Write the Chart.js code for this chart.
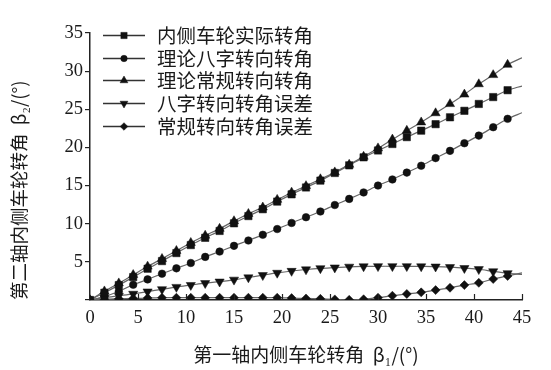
<!DOCTYPE html>
<html>
<head>
<meta charset="utf-8">
<script src="https://cdn.jsdelivr.net/npm/chart.js@4/dist/chart.umd.min.js"></script>
<style>
  html,body{margin:0;padding:0;background:#fff;}
  #wrap{width:551px;height:370px;position:relative;}
</style>
</head>
<body>
<div id="wrap"><canvas id="c"></canvas></div>
<script>
// ---- data ----
const xValues = [0,1.5,3,4.5,6,7.5,9,10.5,12,13.5,15,16.5,18,19.5,21,22.5,24,25.5,27,28.5,30,31.5,33,34.5,36,37.5,39,40.5,42,43.5,45];
const actualAngle = [0,0.95,1.95,3.0,4.1,5.1,6.15,7.2,8.15,9.05,10.05,11.0,11.9,12.9,13.85,14.75,15.65,16.65,17.65,18.7,19.6,20.45,21.35,22.2,23.05,23.95,24.8,25.7,26.6,27.5,28.05];
const eightAngle = [0,0.45,1.15,2.0,2.7,3.45,4.15,4.85,5.65,6.35,7.1,7.8,8.55,9.3,10.1,10.85,11.6,12.45,13.25,14.1,15.0,15.8,16.7,17.6,18.6,19.55,20.55,21.55,22.65,23.75,24.55];
const conventionalAngle = [0,1.15,2.2,3.3,4.4,5.4,6.45,7.5,8.45,9.35,10.35,11.3,12.15,13.15,14.1,14.95,15.85,16.75,17.75,18.8,19.9,21.05,22.2,23.3,24.5,25.7,26.95,28.3,29.5,30.85,31.75];
const eightError = [0,0.3,0.55,0.8,1.1,1.4,1.7,1.95,2.2,2.4,2.65,2.95,3.25,3.55,3.8,4.0,4.15,4.25,4.35,4.4,4.42,4.42,4.42,4.4,4.37,4.3,4.17,4.03,3.75,3.5,3.35];
const conventionalError = [0,0.1,0.15,0.2,0.25,0.3,0.3,0.3,0.3,0.3,0.3,0.3,0.3,0.3,0.25,0.2,0.15,0.08,0.02,0.1,0.3,0.56,0.79,1.0,1.3,1.6,1.95,2.25,2.75,3.15,3.55];
const seriesNames = ['内侧车轮实际转角','理论八字转向转角','理论常规转向转角','八字转向转角误差','常规转向转角误差'];
const xTicks = [0,5,10,15,20,25,30,35,40,45];
const yTicks = [5,10,15,20,25,30,35];
const xTitle = '第一轴内侧车轮转角  β₁/(°)';
const yTitle = '第二轴内侧车轮转角  β₂/(°)';

const toPts = ys => xValues.map((x,i)=>({x:x,y:ys[i]}));
const lastIdx = xValues.length - 1;
const markerStyles = [
  {pointStyle:'rect', radius:5.2, rotation:0},
  {pointStyle:'circle', radius:3.8, rotation:0},
  {pointStyle:'triangle', radius:5.3, rotation:0},
  {pointStyle:'triangle', radius:5.3, rotation:180},
  {pointStyle:'rectRot', radius:4.5, rotation:0}
];
const seriesData = [actualAngle, eightAngle, conventionalAngle, eightError, conventionalError];

const datasets = seriesData.map((d,k)=>({
  label: seriesNames[k],
  data: toPts(d),
  borderColor: '#666',
  borderWidth: 1.2,
  backgroundColor: '#111',
  pointBackgroundColor: '#111',
  pointBorderColor: '#111',
  pointBorderWidth: 0.5,
  pointStyle: markerStyles[k].pointStyle,
  pointRotation: markerStyles[k].rotation,
  pointRadius: ctx => ctx.dataIndex === lastIdx ? 0 : markerStyles[k].radius,
  tension: 0.3,
  fill: false
}));

const serif = '"Liberation Serif","Times New Roman",serif';
const cjk = '"Noto Sans CJK SC","Liberation Serif",serif';

const extras = {
  id: 'extras',
  afterDatasetsDraw(chart){
    const ctx = chart.ctx;
    const xs = chart.scales.x, ys = chart.scales.y;
    ctx.save();
    // inward x ticks
    ctx.strokeStyle = '#222';
    ctx.lineWidth = 1.2;
    const yb = ys.getPixelForValue(0);
    xTicks.forEach(v=>{
      if(v===0) return;
      const px = Math.round(xs.getPixelForValue(v))+0.5;
      ctx.beginPath(); ctx.moveTo(px, yb); ctx.lineTo(px, yb-6); ctx.stroke();
    });
    // legend
    const rowY = [35,58,80,103,126];
    chart.data.datasets.forEach((ds,k)=>{
      const y = rowY[k];
      ctx.strokeStyle = '#333';
      ctx.lineWidth = 1.4;
      ctx.beginPath(); ctx.moveTo(103,y+0.5); ctx.lineTo(145,y+0.5); ctx.stroke();
      ctx.fillStyle = '#111';
      ctx.strokeStyle = '#111';
      ctx.lineWidth = 0.5;
      Chart.helpers.drawPoint(ctx, {pointStyle: markerStyles[k].pointStyle, radius: markerStyles[k].radius*0.85, rotation: markerStyles[k].rotation, borderWidth:0.5}, 124, y+0.5);
      ctx.fillStyle = '#1a1a1a';
      ctx.font = '19.5px ' + cjk;
      ctx.textBaseline = 'middle';
      ctx.textAlign = 'left';
      ctx.fillText(ds.label, 157, y+1);
    });
    ctx.restore();
  }
};

new Chart(document.getElementById('c'), {
  type: 'line',
  data: { datasets: datasets },
  plugins: [extras],
  options: {
    responsive: true,
    maintainAspectRatio: false,
    animation: false,
    layout: { padding: { left: 6, right: 29, top: 33, bottom: 4 } },
    plugins: { legend: { display: false }, tooltip: { enabled: false } },
    scales: {
      x: {
        type: 'linear', min: 0, max: 45,
        afterBuildTicks: s => { s.ticks = xTicks.map(v=>({value:v})); },
        afterFit: s => { s.height = 66; },
        grid: { display: true, drawOnChartArea: false, drawTicks: false },
        border: { display: true, color: '#222', width: 1.5 },
        ticks: { color: '#1a1a1a', font: { family: serif, size: 18.5 }, padding: 7, maxRotation: 0 },
        title: { display: true, text: xTitle, color: '#1a1a1a', font: { family: cjk, size: 19 }, padding: { top: 3, bottom: 0 } }
      },
      y: {
        type: 'linear', min: 0, max: 35,
        afterBuildTicks: s => { s.ticks = [0].concat(yTicks).map(v=>({value:v})); },
        afterFit: s => { s.width = 84; },
        grid: { display: true, drawOnChartArea: false, drawTicks: true, tickLength: 5, color: '#222', lineWidth: 1.2 },
        border: { display: true, color: '#222', width: 1.5 },
        ticks: { color: '#1a1a1a', font: { family: serif, size: 18.5 }, padding: 2, callback: v => v === 0 ? '' : String(v) },
        title: { display: true, text: yTitle, align: 'start', color: '#1a1a1a', font: { family: cjk, size: 18.5 }, padding: { top: 2, bottom: 4 } }
      }
    }
  }
});
</script>
</body>
</html>
